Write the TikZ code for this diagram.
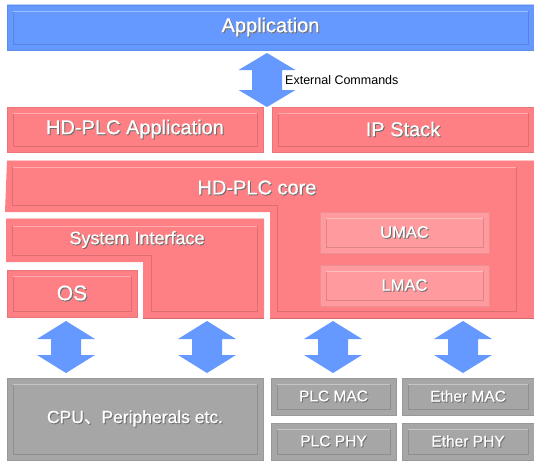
\documentclass[tikz,border=0pt]{standalone}
\usepackage{fontspec}
\setmainfont{Liberation Sans}
\newfontfamily\lblfont[FakeBold=0.7]{Liberation Sans}
\newfontfamily\cjk[FakeBold=0.7]{Noto Sans CJK JP}
\usetikzlibrary{calc}
\definecolor{appblue}{RGB}{102,153,255}
\definecolor{plcred}{RGB}{255,128,132}
\definecolor{maclight}{RGB}{255,155,158}
\definecolor{hwgray}{RGB}{166,166,166}
\definecolor{txtshadow}{RGB}{110,110,110}
\newcommand\shtxt[1]{\lblfont\makebox[0pt][l]{\raisebox{-1pt}{\hspace{1pt}\textcolor{txtshadow}{#1}}}\textcolor{white}{#1}}
\newcommand\fsz[1]{\fontsize{#1}{#1}\selectfont}
\tikzset{
  bevel/.style={path picture={
    \coordinate (bsw) at ([shift={(6pt,6pt)}]path picture bounding box.south west);
    \coordinate (bne) at ([shift={(-6pt,-6pt)}]path picture bounding box.north east);
    \draw[#1!86!black, line width=0.6pt] (bsw |- bne) -- (bsw) -- (bsw -| bne) -- (bne);
    \draw[#1!65!white, line width=0.6pt] (bsw |- bne) -- (bne);
    \draw[#1!45!white, line width=1.2pt] (path picture bounding box.north west) -- (path picture bounding box.north east);
    \draw[#1!82!black, line width=1pt] (path picture bounding box.south west) -- (path picture bounding box.south east);
  }},
  blk/.style={fill=#1, draw=#1!92!black, line width=0.4pt, inner sep=0pt, outer sep=0pt, bevel=#1},
  darrowfill/.style={fill=appblue},
  lbl/.style={inner sep=0pt},
}
% name, x1, y1, x2, y2, colour, font size, text
\newcommand\blkbox[8]{%
  \node[blk=#6, minimum width={#4-#2}, minimum height={#5-#3}] (#1) at ({(#2+#4)/2},{(#3+#5)/2}) {\fsz{#7}\shtxt{#8}};}
% centre x, top y, bottom y, head length, half head width, half shaft width
\newcommand\dblarrow[6]{%
  \fill[darrowfill] (#1,#2) -- (#1+#5,#2+#4) -- (#1+#6,#2+#4) -- (#1+#6,#3-#4) -- (#1+#5,#3-#4) -- (#1,#3)
     -- (#1-#5,#3-#4) -- (#1-#6,#3-#4) -- (#1-#6,#2+#4) -- (#1-#5,#2+#4) -- cycle;}
\begin{document}
\begin{tikzpicture}[x=1pt,y=-1pt]
\useasboundingbox (0,0) rectangle (534,460);
% top layer
\blkbox{app}{7}{5}{534}{50}{appblue}{20}{Application}
\dblarrow{267}{53}{107}{17}{28.5}{15}
\node[lbl, anchor=west] (ext) at (285,80) {\fsz{12.5}External Commands};
\blkbox{hdapp}{7}{107}{263}{152}{plcred}{20}{HD-PLC Application}
\blkbox{ipstack}{272}{107}{534}{152}{plcred}{20}{IP Stack}
% HD-PLC core
\fill[plcred] (7,160) -- (534,160) -- (534,318) -- (270,318) -- (270,212) -- (5,212) -- cycle;
\draw[plcred!45!white, line width=1.2pt] (7,160.5) -- (534,160.5);
\draw[plcred!65!white, line width=0.6pt] (12,167) -- (516,167);
\draw[plcred!86!black, line width=0.6pt] (12,167) -- (12,205) -- (277,205) -- (277,311) -- (516,311) -- (516,167);
\draw[plcred!82!black, line width=0.8pt] (270,318) -- (534,318);
\node[lbl] (core) at (257,188) {\fsz{20}\shtxt{HD-PLC core}};
\blkbox{umac}{320}{212}{489}{253}{maclight}{16.5}{UMAC}
\blkbox{lmac}{320}{265}{489}{306}{maclight}{16.5}{LMAC}
% System Interface
\fill[plcred] (6,218) -- (264,218) -- (264,318) -- (143,318) -- (143,262) -- (6,262) -- cycle;
\draw[plcred!45!white, line width=1.2pt] (6,218.5) -- (264,218.5);
\draw[plcred!65!white, line width=0.6pt] (12,226) -- (257,226);
\draw[plcred!86!black, line width=0.6pt] (12,226) -- (12,255) -- (151,255) -- (151,311) -- (257,311) -- (257,226);
\draw[plcred!82!black, line width=0.8pt] (143,318) -- (264,318);
\node[lbl] (sysif) at (137,240) {\fsz{18}\shtxt{System Interface}};
\blkbox{os}{7}{270}{137}{317}{plcred}{21}{OS}
% lower arrows
\dblarrow{66}{321}{373}{18}{29}{15}
\dblarrow{207}{321}{373}{18}{29}{15}
\dblarrow{333}{321}{373}{18}{29}{15}
\dblarrow{463}{321}{373}{18}{29}{15}
% hardware
\blkbox{cpu}{7}{378}{263}{460}{hwgray}{17.5}{CPU{\cjk 、}Peripherals etc.}
\blkbox{plcmac}{271}{378}{396}{415}{hwgray}{15.5}{PLC MAC}
\blkbox{plcphy}{271}{423}{396}{460}{hwgray}{15.5}{PLC PHY}
\blkbox{ethmac}{402}{378}{534}{415}{hwgray}{15.5}{Ether MAC}
\blkbox{ethphy}{402}{423}{534}{460}{hwgray}{15.5}{Ether PHY}
\end{tikzpicture}
\end{document}
